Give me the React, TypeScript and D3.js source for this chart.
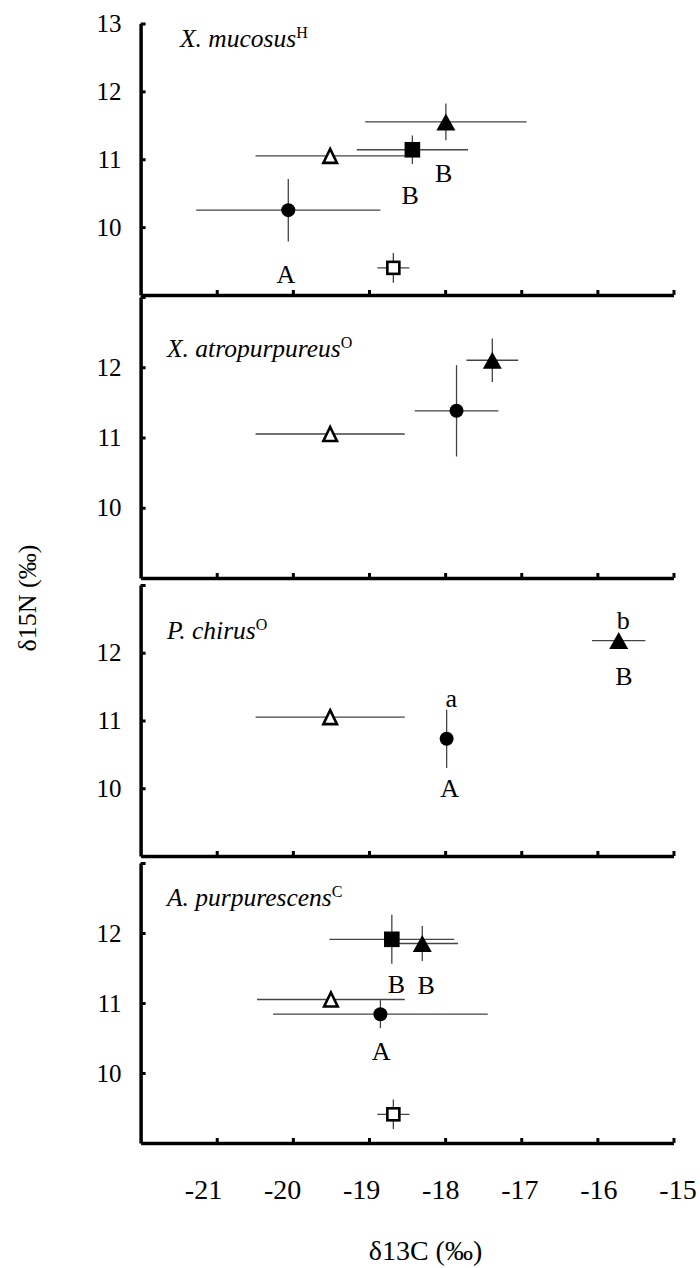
import React, { useEffect, useRef } from "react";
import * as d3 from "d3";

const xTickValues = [-21, -20, -19, -18, -17, -16, -15];
const yTickValues = [10, 11, 12, 13];

const speciesNames = ["X. mucosus", "X. atropurpureus", "P. chirus", "A. purpurescens"];
const speciesSup = ["H", "O", "O", "C"];

// mark: dot = filled circle, sq = filled square, osq = open square, tri = filled triangle, otri = open triangle
const mucosusPoints = [
  { mark: "otri", x: -19.51, xsd: 0.98, y: 11.05, ysd: 0 },
  { mark: "dot", x: -20.06, xsd: 1.21, y: 10.25, ysd: 0.46 },
  { mark: "sq", x: -18.43, xsd: 0.73, y: 11.14, ysd: 0.21 },
  { mark: "tri", x: -17.99, xsd: 1.06, y: 11.55, ysd: 0.27 },
  { mark: "osq", x: -18.68, xsd: 0.21, y: 9.4, ysd: 0.22 },
];
const atropurpureusPoints = [
  { mark: "otri", x: -19.51, xsd: 0.98, y: 11.05, ysd: 0 },
  { mark: "dot", x: -17.85, xsd: 0.55, y: 11.38, ysd: 0.65 },
  { mark: "tri", x: -17.38, xsd: 0.34, y: 12.1, ysd: 0.31 },
];
const chirusPoints = [
  { mark: "otri", x: -19.51, xsd: 0.98, y: 11.05, ysd: 0 },
  { mark: "dot", x: -17.98, xsd: 0, y: 10.73, ysd: 0.43 },
  { mark: "tri", x: -15.72, xsd: 0.35, y: 12.18, ysd: 0 },
];
const purpurescensPoints = [
  { mark: "otri", x: -19.5, xsd: 0.97, y: 11.05, ysd: 0 },
  { mark: "dot", x: -18.85, xsd: 1.41, y: 10.84, ysd: 0.2 },
  { mark: "sq", x: -18.7, xsd: 0.82, y: 11.91, ysd: 0.35 },
  { mark: "tri", x: -18.3, xsd: 0.47, y: 11.85, ysd: 0.25 },
  { mark: "osq", x: -18.68, xsd: 0.21, y: 9.41, ysd: 0.21 },
];

// significance letters, placed at data coords (baseline)
const mucosusLetters = [
  { text: "A", x: -20.09, y: 9.17 },
  { text: "B", x: -18.46, y: 10.34 },
  { text: "B", x: -18.02, y: 10.67 },
];
const atropurpureusLetters: { text: string; x: number; y: number }[] = [];
const chirusLetters = [
  { text: "a", x: -17.92, y: 11.2 },
  { text: "A", x: -17.94, y: 9.87 },
  { text: "b", x: -15.66, y: 12.35 },
  { text: "B", x: -15.65, y: 11.52 },
];
const purpurescensLetters = [
  { text: "B", x: -18.64, y: 11.15 },
  { text: "B", x: -18.25, y: 11.13 },
  { text: "A", x: -18.84, y: 10.18 },
];

const FONT = "'Liberation Serif', 'Times New Roman', serif";

const App = () => {
  const ref = useRef<SVGSVGElement>(null);

  useEffect(() => {
    const svg = d3.select(ref.current);
    svg.selectAll("*").remove();

    const x = d3.scaleLinear().domain([-22, -15]).range([140.6, 673.5]);
    // tick labels under the last panel sit on their own spacing in the figure
    const xLab = d3.scaleLinear().domain([-21, -15]).range([203.5, 678]);

    const panels = [
      { pts: mucosusPoints, letters: mucosusLetters, range: [295, 23.5], name: [180, 47] },
      { pts: atropurpureusPoints, letters: atropurpureusLetters, range: [578, 297], name: [167, 357] },
      { pts: chirusPoints, letters: chirusLetters, range: [856, 585], name: [167, 639] },
      { pts: purpurescensPoints, letters: purpurescensLetters, range: [1143, 863], name: [167, 906] },
    ];

    panels.forEach((p, i) => {
      const y = d3.scaleLinear().domain([9, 13]).range(p.range);
      const g = svg.append("g");

      // x axis line with inward ticks
      const xa = g.append("g")
        .attr("transform", "translate(0," + p.range[0] + ")")
        .call(d3.axisBottom(x).tickValues(xTickValues).tickSize(-5).tickSizeOuter(0).tickFormat(() => ""));
      xa.select(".domain").attr("stroke-width", 3.5).attr("stroke", "#000");
      xa.selectAll(".tick line").attr("stroke-width", 3).attr("stroke", "#000");

      // y axis
      const ya = g.append("g")
        .attr("transform", "translate(" + x(-22) + ",0)")
        .call(d3.axisLeft(y).tickValues(yTickValues).tickSize(-5).tickSizeOuter(0).tickPadding(19)
          .tickFormat((d: any) => (i === 0 || d !== 13 ? String(d) : "")));
      ya.select(".domain").attr("stroke-width", 3.5).attr("stroke", "#000");
      ya.selectAll(".tick line").attr("stroke-width", 3).attr("stroke", "#000");
      ya.selectAll(".tick text").attr("font-family", FONT).attr("font-size", 25).attr("fill", "#000");

      // error bars
      p.pts.forEach((d) => {
        if (d.xsd > 0) {
          g.append("line")
            .attr("x1", x(d.x - d.xsd)).attr("x2", x(d.x + d.xsd))
            .attr("y1", y(d.y)).attr("y2", y(d.y))
            .attr("stroke", "#444").attr("stroke-width", 1.3);
        }
        if (d.ysd > 0) {
          g.append("line")
            .attr("x1", x(d.x)).attr("x2", x(d.x))
            .attr("y1", y(d.y - d.ysd)).attr("y2", y(d.y + d.ysd))
            .attr("stroke", "#444").attr("stroke-width", 1.3);
        }
      });

      // markers
      p.pts.forEach((d) => {
        const cx = x(d.x), cy = y(d.y);
        if (d.mark === "dot") {
          g.append("circle").attr("cx", cx).attr("cy", cy).attr("r", 7).attr("fill", "#000");
        } else if (d.mark === "sq") {
          g.append("rect").attr("x", cx - 7.8).attr("y", cy - 7.8).attr("width", 15.6).attr("height", 15.6).attr("fill", "#000");
        } else if (d.mark === "osq") {
          g.append("rect").attr("x", cx - 6).attr("y", cy - 6).attr("width", 12).attr("height", 12)
            .attr("fill", "#fff").attr("stroke", "#000").attr("stroke-width", 2.6);
        } else if (d.mark === "tri") {
          g.append("path")
            .attr("d", `M${cx},${cy - 8.5}L${cx + 9.5},${cy + 8.5}L${cx - 9.5},${cy + 8.5}Z`)
            .attr("fill", "#000");
        } else {
          g.append("path")
            .attr("d", `M${cx},${cy - 7}L${cx + 6.8},${cy + 7}L${cx - 6.8},${cy + 7}Z`)
            .attr("fill", "#fff").attr("stroke", "#000").attr("stroke-width", 2.6).attr("stroke-linejoin", "miter");
        }
      });

      // letters
      g.selectAll(".lett")
        .data(p.letters)
        .enter()
        .append("text")
        .attr("x", (d) => x(d.x))
        .attr("y", (d) => y(d.y))
        .attr("text-anchor", "middle")
        .attr("font-family", FONT)
        .attr("font-size", 26)
        .text((d) => d.text);

      // species name
      const t = g.append("text")
        .attr("x", p.name[0]).attr("y", p.name[1])
        .attr("font-family", FONT).attr("font-size", 25.5);
      t.append("tspan").attr("font-style", "italic").text(speciesNames[i]);
      t.append("tspan").attr("font-size", 16).attr("dy", -9).text(speciesSup[i]);
    });

    // x tick labels
    svg.selectAll(".xlab")
      .data(xTickValues)
      .enter()
      .append("text")
      .attr("x", (d) => xLab(d))
      .attr("y", 1199)
      .attr("text-anchor", "middle")
      .attr("font-family", FONT)
      .attr("font-size", 28)
      .text((d) => String(d));

    svg.append("text")
      .attr("x", 425.5).attr("y", 1260)
      .attr("text-anchor", "middle")
      .attr("font-family", FONT).attr("font-size", 28)
      .text("δ13C (‰)");

    svg.append("text")
      .attr("transform", "translate(36,598) rotate(-90)")
      .attr("text-anchor", "middle")
      .attr("font-family", FONT).attr("font-size", 26)
      .text("δ15N (‰)");
  });

  return (
    <div style={{ position: "absolute", left: 0, top: 0 }}>
      <svg ref={ref} width={700} height={1268} style={{ display: "block", background: "#fff" }} />
    </div>
  );
};

export default App;
